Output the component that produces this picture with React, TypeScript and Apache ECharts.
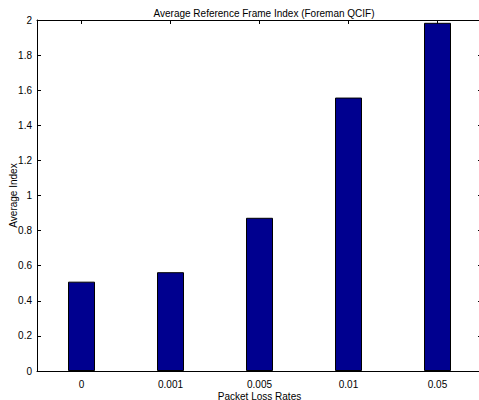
import React, { useEffect, useRef } from "react";
import * as echarts from "echarts";

const categories = ["0", "0.001", "0.005", "0.01", "0.05"];
const values = [0.509, 0.563, 0.873, 1.558, 1.984];
const titleText = "Average Reference Frame Index (Foreman QCIF)";
const xName = "Packet Loss Rates";
const yName = "Average Index";

const FONT = "Liberation Sans, Arial, Helvetica, sans-serif";

export default function App() {
  const ref = useRef<HTMLDivElement>(null);
  useEffect(() => {
    if (!ref.current) return;
    const chart = echarts.init(ref.current, undefined, { renderer: "svg" });
    const mkLine = () => ({ show: true, onZero: false, lineStyle: { color: "#000", width: 1 } });
    const mkTick = () => ({ show: true, inside: true, length: 4, lineStyle: { color: "#000", width: 1 } });
    chart.setOption({
      animation: false,
      backgroundColor: "#fff",
      title: {
        text: titleText,
        left: 259,
        top: 3,
        textAlign: "center",
        textStyle: { fontSize: 10, fontWeight: "normal", color: "#000", fontFamily: FONT },
      },
      grid: {
        left: 37,
        right: -3,
        top: 20,
        bottom: 29,
        containLabel: false,
        outerBoundsMode: "none",
        show: false,
      },
      xAxis: [
        {
          type: "category",
          data: categories,
          position: "bottom",
          boundaryGap: true,
          axisLine: mkLine(),
          axisTick: { ...mkTick(), alignWithLabel: true },
          axisLabel: { fontSize: 10, color: "#000", fontFamily: FONT, margin: 8 },
          name: xName,
          nameLocation: "middle",
          nameGap: 20,
          nameMoveOverlap: false,
          nameTextStyle: { fontSize: 10, color: "#000", fontFamily: FONT },
          splitLine: { show: false },
        },
        {
          type: "category",
          data: categories,
          position: "top",
          boundaryGap: true,
          axisLine: mkLine(),
          axisTick: { ...mkTick(), alignWithLabel: true },
          axisLabel: { show: false },
          splitLine: { show: false },
        },
      ],
      yAxis: [
        {
          type: "value",
          min: 0,
          max: 2,
          interval: 0.2,
          position: "left",
          axisLine: mkLine(),
          axisTick: mkTick(),
          axisLabel: {
            fontSize: 10,
            color: "#000",
            fontFamily: FONT,
            margin: 5,
            formatter: (v: number) => String(Math.round(v * 10) / 10),
          },
          name: yName,
          nameLocation: "middle",
          nameGap: 19,
          nameRotate: 90,
          nameMoveOverlap: false,
          nameTextStyle: { fontSize: 10, color: "#000", fontFamily: FONT },
          splitLine: { show: false },
        },
        {
          type: "value",
          min: 0,
          max: 2,
          interval: 0.2,
          position: "right",
          axisLine: mkLine(),
          axisTick: mkTick(),
          axisLabel: { show: false },
          splitLine: { show: false },
        },
      ],
      series: [
        {
          type: "bar",
          data: values,
          barWidth: 27,
          itemStyle: { color: "#00008f", borderColor: "#000", borderWidth: 1 },
        },
      ],
    });
    return () => chart.dispose();
  }, []);
  return (
    <div
      ref={ref}
      style={{ position: "absolute", left: 0, top: 0, width: 479, height: 400 }}
    />
  );
}
